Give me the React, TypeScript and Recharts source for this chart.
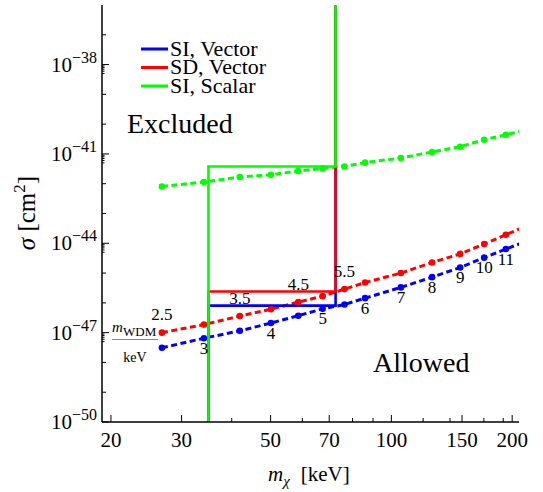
import { LabelList, Line, LineChart, XAxis, YAxis } from "recharts";

const FONT = "'Liberation Serif', 'Times New Roman', serif";
const BLUE = "#0000ff";
const RED = "#ff0000";
const GREEN = "#00ff00";
const W = 543;
const H = 492;

// dark matter mass of each dot, keV (same grid for all three curves)
const mChi = [26.8, 34.1, 41.9, 50.1, 58.6, 67.4, 76.4, 86.0, 105.6, 126.3, 148.4, 170.3, 192.9, 217];
// m_WDM / keV labels written next to the dots
const labelsBlue = ["", "3", "", "4", "", "5", "", "6", "7", "8", "9", "10", "11", ""];
const labelsRed = ["2.5", "", "3.5", "", "4.5", "", "5.5", "", "", "", "", "", "", ""];
// cross sections, cm^2
const sigmaSIVector = [3.1e-48, 6.5e-48, 1.15e-47, 2.1e-47, 3.7e-47, 6.3e-47, 8.8e-47, 1.44e-46, 3.3e-46, 7.3e-46, 1.54e-45, 3.3e-45, 6.4e-45, 1.17e-44];
const sigmaSDVector = [1.0e-47, 1.86e-47, 3.6e-47, 6.1e-47, 1.06e-46, 1.68e-46, 2.9e-46, 4.8e-46, 1.0e-45, 2.26e-45, 4.4e-45, 9.4e-45, 1.93e-44, 3.8e-44];
const sigmaSIScalar = [8.1e-43, 1.14e-42, 1.68e-42, 2.0e-42, 2.67e-42, 3.27e-42, 3.8e-42, 5.1e-42, 7.3e-42, 1.16e-41, 1.75e-41, 3.0e-41, 4.4e-41, 6.4e-41];

// exclusion boundaries (vertical, horizontal, vertical)
const boxM = [35, 35, 72.6, 72.6];
const boxSIVector = [1e-50, 8.1e-47, 8.1e-47, 1e-36];
const boxSDVector = [1e-50, 2.4e-46, 2.4e-46, 1e-36];
const boxSIScalar = [1e-50, 3.8e-42, 3.8e-42, 1e-36];

const X_DOMAIN = [19, 208];
const Y_DOMAIN = [1e-50, 1e-36];
const X_MAJOR = [20, 30, 50, 70, 100, 150, 200];
const X_MINOR = [40, 60, 80, 90, 120, 140, 170, 190];
const Y_MAJOR = [1e-50, 1e-47, 1e-44, 1e-41, 1e-38];
const Y_MINOR = [1e-49, 1e-48, 1e-46, 1e-45, 1e-43, 1e-42, 1e-40, 1e-39, 1e-37];

const Y_SUB: number[] = [];
for (const v of Y_MAJOR.slice(1)) {
  const e = Math.round(Math.log10(v)) - 1;
  for (let j = 5; j <= 9; j++) Y_SUB.push(Number(`${j}e${e}`));
}
const X_TICKS = [...X_MAJOR, ...X_MINOR].sort((a, b) => a - b);
const Y_TICKS = [...Y_MAJOR, ...Y_MINOR, ...Y_SUB].sort((a, b) => a - b);

const xLen = (v: number) => (X_MAJOR.includes(v) ? 7 : 4);
const yLen = (v: number) => (Y_MAJOR.includes(v) ? 7 : Y_MINOR.includes(v) ? 4 : 2.5);

const curve = (sig: number[], labels: string[]) =>
  mChi.map((m, i) => ({ m, s: sig[i], lab: labels[i] }));
const box = (sig: number[]) => boxM.map((m, i) => ({ m, s: sig[i] }));

const blueData = curve(sigmaSIVector, labelsBlue);
const redData = curve(sigmaSDVector, labelsRed);
const greenData = curve(sigmaSIScalar, []);

function BottomTick({ x, y, payload }: any) {
  const v = payload.value;
  return (
    <g>
      <line x1={x} x2={x} y1={y} y2={y - xLen(v)} stroke="#000" />
      {X_MAJOR.includes(v) && (
        <text x={x} y={y + 25} textAnchor="middle" style={{ fontFamily: FONT }} fontSize={21} fill="#000">
          {v}
        </text>
      )}
    </g>
  );
}

function TopTick({ x, y, payload }: any) {
  return <line x1={x} x2={x} y1={y} y2={y + xLen(payload.value)} stroke="#000" />;
}

function LeftTick({ x, y, payload }: any) {
  const v = payload.value;
  const exp = Math.round(Math.log10(v));
  return (
    <g>
      <line x1={x} x2={x + yLen(v)} y1={y} y2={y} stroke="#000" />
      {Y_MAJOR.includes(v) && (
        <text x={x - 5} y={y + 7} textAnchor="end" style={{ fontFamily: FONT }} fontSize={21} fill="#000">
          10
          <tspan dy={-9} fontSize={16}>{`\u2212${-exp}`}</tspan>
        </text>
      )}
    </g>
  );
}

function RightTick({ x, y, payload }: any) {
  return <line x1={x} x2={x - yLen(payload.value)} y1={y} y2={y} stroke="#000" />;
}

const pointLabel = (dy: number) => (props: any) => {
  const { x, y, value } = props;
  if (!value) return null;
  return (
    <text x={x} y={y + dy} textAnchor="middle" dominantBaseline="central" style={{ fontFamily: FONT }} fontSize={17} fill="#000">
      {value}
    </text>
  );
};

const axisLine = { stroke: "#000", strokeWidth: 1.5 };

export default function App() {
  return (
    <div style={{ position: "absolute", left: 0, top: 0, width: W, height: H, background: "#fff", fontFamily: FONT }}>
      <LineChart width={W} height={H} margin={{ top: 5, right: 24, bottom: 0, left: 0 }}>
        <XAxis
          dataKey="m"
          type="number"
          scale="log"
          domain={X_DOMAIN}
          allowDataOverflow
          ticks={X_TICKS}
          interval={0}
          height={70}
          tickSize={0}
          tickMargin={0}
          tickLine={false}
          axisLine={axisLine}
          tick={<BottomTick />}
        />
        <XAxis
          xAxisId="top"
          orientation="top"
          dataKey="m"
          type="number"
          scale="log"
          domain={X_DOMAIN}
          allowDataOverflow
          ticks={X_TICKS}
          interval={0}
          height={0}
          tickSize={0}
          tickMargin={0}
          tickLine={false}
          axisLine={axisLine}
          tick={<TopTick />}
        />
        <YAxis
          dataKey="s"
          type="number"
          scale="log"
          domain={Y_DOMAIN}
          allowDataOverflow
          ticks={Y_TICKS}
          interval={0}
          width={102}
          tickSize={0}
          tickMargin={0}
          tickLine={false}
          axisLine={axisLine}
          tick={<LeftTick />}
        />
        <YAxis
          yAxisId="right"
          orientation="right"
          dataKey="s"
          type="number"
          scale="log"
          domain={Y_DOMAIN}
          allowDataOverflow
          ticks={Y_TICKS}
          interval={0}
          width={0}
          tickSize={0}
          tickMargin={0}
          tickLine={false}
          axisLine={axisLine}
          tick={<RightTick />}
        />

        <Line
          data={greenData}
          dataKey="s"
          type="linear"
          stroke={GREEN}
          strokeWidth={3}
          strokeDasharray="6 3.5"
          dot={{ r: 3.3, fill: GREEN, stroke: "none" }}
          activeDot={false}
          isAnimationActive={false}
        />
        <Line
          data={redData}
          dataKey="s"
          type="linear"
          stroke={RED}
          strokeWidth={3}
          strokeDasharray="6 3.5"
          dot={{ r: 3.3, fill: RED, stroke: "none" }}
          activeDot={false}
          isAnimationActive={false}
        >
          <LabelList dataKey="lab" content={pointLabel(-18)} />
        </Line>
        <Line
          data={blueData}
          dataKey="s"
          type="linear"
          stroke={BLUE}
          strokeWidth={3}
          strokeDasharray="6 3.5"
          dot={{ r: 3.3, fill: BLUE, stroke: "none" }}
          activeDot={false}
          isAnimationActive={false}
        >
          <LabelList dataKey="lab" content={pointLabel(10)} />
        </Line>

        <Line data={box(boxSIVector)} dataKey="s" type="linear" stroke={BLUE} strokeWidth={2.6} dot={false} activeDot={false} isAnimationActive={false} />
        <Line data={box(boxSDVector)} dataKey="s" type="linear" stroke={RED} strokeWidth={2.6} dot={false} activeDot={false} isAnimationActive={false} />
        <Line data={box(boxSIScalar)} dataKey="s" type="linear" stroke={GREEN} strokeWidth={2.6} dot={false} activeDot={false} isAnimationActive={false} />
      </LineChart>

      <svg width={W} height={H} style={{ position: "absolute", left: 0, top: 0, pointerEvents: "none", fontFamily: FONT }}>
        {/* legend */}
        <line x1={141} x2={168} y1={49} y2={49} stroke={BLUE} strokeWidth={3} />
        <line x1={141} x2={168} y1={67.5} y2={67.5} stroke={RED} strokeWidth={3} />
        <line x1={141} x2={168} y1={86} y2={86} stroke={GREEN} strokeWidth={3} />
        <text x={170} y={56} fontSize={22}>SI, Vector</text>
        <text x={170} y={74} fontSize={22}>SD, Vector</text>
        <text x={170} y={93} fontSize={22}>SI, Scalar</text>

        <text x={127} y={133} fontSize={28}>Excluded</text>
        <text x={373} y={372} fontSize={28}>Allowed</text>

        {/* m_WDM / keV key */}
        <text x={112} y={332} fontSize={15} fontStyle="italic">m</text>
        <text x={123} y={336} fontSize={13}>WDM</text>
        <line x1={112} x2={158} y1={339.5} y2={339.5} stroke="#888" strokeWidth={1} />
        <text x={135} y={362} fontSize={14} textAnchor="middle">keV</text>

        {/* axis titles */}
        <text x={268} y={481} fontSize={21}>
          <tspan fontStyle="italic">m</tspan>
          <tspan fontStyle="italic" fontSize={15} dy={5}>χ</tspan>
          <tspan dy={-5} dx={11}>[keV]</tspan>
        </text>
        <text x={35} y={213} fontSize={25} textAnchor="middle" transform="rotate(-90 35 213)">
          <tspan fontStyle="italic">σ</tspan>
          <tspan> [cm</tspan>
          <tspan fontSize={17} dy={-10}>2</tspan>
          <tspan dy={10}>]</tspan>
        </text>
      </svg>
    </div>
  );
}
